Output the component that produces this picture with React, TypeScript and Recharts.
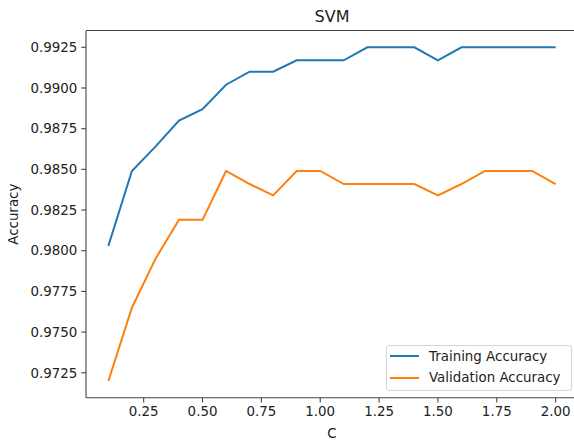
import { Line, LineChart, XAxis, YAxis } from "recharts";

const cValues = [0.1, 0.2, 0.3, 0.4, 0.5, 0.6, 0.7, 0.8, 0.9, 1.0, 1.1, 1.2, 1.3, 1.4, 1.5, 1.6, 1.7, 1.8, 1.9, 2.0];
const trainingAccuracy = [
  0.9803, 0.9849, 0.9864, 0.9880, 0.9887, 0.9902, 0.9910, 0.9910, 0.9917, 0.9917,
  0.9917, 0.9925, 0.9925, 0.9925, 0.9917, 0.9925, 0.9925, 0.9925, 0.9925, 0.9925,
];
const validationAccuracy = [
  0.9720, 0.9765, 0.9795, 0.9819, 0.9819, 0.9849, 0.9841, 0.9834, 0.9849, 0.9849,
  0.9841, 0.9841, 0.9841, 0.9841, 0.9834, 0.9841, 0.9849, 0.9849, 0.9849, 0.9841,
];
const xTicks = [0.25, 0.5, 0.75, 1.0, 1.25, 1.5, 1.75, 2.0];
const yTicks = [0.9725, 0.975, 0.9775, 0.98, 0.9825, 0.985, 0.9875, 0.99, 0.9925];

const seriesNames = ["Training Accuracy", "Validation Accuracy"];
const BLUE = "#1f77b4";
const ORANGE = "#ff7f0e";
const FONT = "DejaVu Sans, sans-serif";
const TEXT = "#222";
const SPINE = "#444";
const X_DOMAIN: [number, number] = [0.005, 2.095];
const Y_DOMAIN: [number, number] = [0.97097, 0.99352];

const data = cValues.map((c, i) => ({
  c,
  training: trainingAccuracy[i],
  validation: validationAccuracy[i],
}));

// matplotlib-style legend box, lower right
function MplLegend() {
  const items = [
    { name: seriesNames[0], color: BLUE },
    { name: seriesNames[1], color: ORANGE },
  ];
  return (
    <div
      style={{
        position: "absolute",
        left: 386,
        top: 345,
        width: 184,
        height: 44,
        border: "1px solid #d6d6d6",
        borderRadius: 3,
        background: "rgba(255,255,255,0.8)",
        fontFamily: FONT,
        fontSize: 13.4,
        color: TEXT,
      }}
    >
      {items.map((it, i) => (
        <div
          key={it.name}
          style={{ position: "absolute", left: 0, top: i === 0 ? 0 : 21.5, height: 20, display: "flex", alignItems: "center" }}
        >
          <span style={{ display: "inline-block", width: 29, height: 2, background: it.color, marginLeft: 3 }} />
          <span style={{ marginLeft: 10, whiteSpace: "nowrap" }}>{it.name}</span>
        </div>
      ))}
    </div>
  );
}

export default function App() {
  return (
    <div style={{ position: "absolute", left: 0, top: 0, width: 574, height: 441, overflow: "hidden", background: "#fff" }}>
      <div
        style={{
          position: "absolute",
          left: 0,
          width: 664,
          top: 8,
          textAlign: "center",
          fontFamily: FONT,
          fontSize: 16,
          color: TEXT,
          lineHeight: "18px",
        }}
      >
        SVM
      </div>
      <LineChart
        width={580}
        height={441}
        data={data}
        margin={{ top: 30.7, right: 2, left: 0, bottom: 0 }}
        style={{ fontFamily: FONT }}
      >
        <XAxis
          dataKey="c"
          type="number"
          domain={X_DOMAIN}
          ticks={xTicks}
          tickFormatter={(v: number) => v.toFixed(2)}
          height={43.3}
          tick={{ fontSize: 13.4, fill: TEXT, dy: 2 }}
          tickSize={4.7}
          tickLine={{ stroke: SPINE, strokeWidth: 1.1 }}
          axisLine={{ stroke: SPINE, strokeWidth: 1.1 }}
          label={{ value: "C", position: "insideBottom", offset: 3, fontSize: 13.4, fill: TEXT }}
        />
        <YAxis
          type="number"
          domain={Y_DOMAIN}
          ticks={yTicks}
          tickFormatter={(v: number) => v.toFixed(4)}
          width={86}
          tick={{ fontSize: 13.4, fill: TEXT }}
          tickSize={4.7}
          tickMargin={4}
          tickLine={{ stroke: SPINE, strokeWidth: 1.1 }}
          axisLine={{ stroke: SPINE, strokeWidth: 1.1 }}
          allowDataOverflow
          label={(props: any) => {
            const vb = props.viewBox || {};
            const cy = (vb.y ?? 30.7) + (vb.height ?? 367) / 2;
            return (
              <text
                x={14}
                y={cy}
                transform={`rotate(-90 14 ${cy})`}
                textAnchor="middle"
                dominantBaseline="central"
                fontSize={13.4}
                fill={TEXT}
                fontFamily={FONT}
              >
                Accuracy
              </text>
            );
          }}
        />
        <Line
          type="linear"
          dataKey="training"
          name={seriesNames[0]}
          stroke={BLUE}
          strokeWidth={2}
          dot={false}
          activeDot={false}
          isAnimationActive={false}
        />
        <Line
          type="linear"
          dataKey="validation"
          name={seriesNames[1]}
          stroke={ORANGE}
          strokeWidth={2}
          dot={false}
          activeDot={false}
          isAnimationActive={false}
        />
      </LineChart>
      {/* top spine of the axes frame */}
      <div style={{ position: "absolute", left: 85.5, top: 30, width: 500, height: 1.2, background: SPINE }} />
      <MplLegend />
    </div>
  );
}
